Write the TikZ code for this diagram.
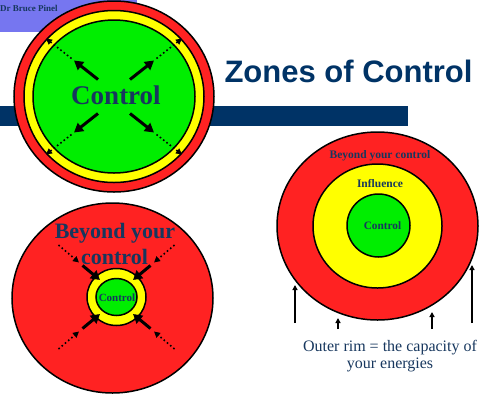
\documentclass[tikz,border=0pt]{standalone}
\usepackage{fontspec}
\setmainfont{Liberation Serif}
\newfontfamily\titlefont{Liberation Sans}
\usetikzlibrary{arrows.meta,calc}
\definecolor{zonered}{RGB}{255,34,34}
\definecolor{zoneyellow}{RGB}{255,255,0}
\definecolor{zonegreen}{RGB}{0,238,0}
\definecolor{ink}{RGB}{23,55,94}
\definecolor{titleblue}{RGB}{0,51,102}
\definecolor{banner}{RGB}{118,118,240}
\tikzset{
  ring/.style={draw=black,line width=1.5pt},
  push/.style={line width=3pt,-{Triangle[length=9pt,width=10pt]}},
  reach/.style={line width=1.6pt,dash pattern=on 1.6pt off 2.6pt,-{Triangle[length=6pt,width=6pt]}},
  lift/.style={line width=1.3pt,-{Triangle[length=5pt,width=5pt]}},
  zonetext/.style={text=ink,inner sep=0pt,anchor=base}
}
\begin{document}
\begin{tikzpicture}[x=1pt,y=-1pt]
  \useasboundingbox (0,0) rectangle (489,397);
  % header
  \fill[banner] (0,0) rectangle (137,32);
  \fill[titleblue] (0,106) rectangle (408,126);
  \node[zonetext,anchor=base west,font=\bfseries\fontsize{9}{10}\selectfont] (author) at (0,11) {Dr Bruce Pinel};
  \node[anchor=base,text=titleblue,font=\titlefont\bfseries\fontsize{31}{36}\selectfont] (title) at (348.5,82) {Zones of Control};

  % upper circle: control reaching out
  \coordinate (U) at (114,96.5);
  \draw[ring,fill=zonered] (U) ellipse [x radius=100pt,y radius=95.5pt];
  \draw[ring,fill=zoneyellow] (U) ellipse [x radius=90pt,y radius=86pt];
  \draw[ring,fill=zonegreen] (U) ellipse [x radius=81pt,y radius=76.5pt];
  \node[zonetext,font=\bfseries\fontsize{27}{30}\selectfont] (ctrlU) at (116,104) {Control};
  \foreach \n/\sx/\sy in {nw/-1/-1,ne/1/-1,sw/-1/1,se/1/1}{
    \coordinate (Ua\n) at ($(U)+(\sx*16,\sy*17)$);
    \coordinate (Ub\n) at ($(U)+(\sx*40,\sy*36)$);
    \coordinate (Uc\n) at ($(U)+(\sx*42.5,\sy*38)$);
    \coordinate (Ud\n) at ($(U)+(\sx*68,\sy*58)$);
    \draw[push] (Ua\n) -- (Ub\n);
    \draw[reach] (Uc\n) -- (Ud\n);
  }

  % lower circle: pressed from outside
  \coordinate (L) at (112.5,298);
  \coordinate (Lc) at (116.5,297);
  \draw[ring,fill=zonered] (L) ellipse [x radius=100.5pt,y radius=95pt];
  \draw[ring,fill=zoneyellow] (Lc) ellipse [x radius=29.5pt,y radius=28.5pt];
  \draw[ring,fill=zonegreen] (Lc) ellipse [x radius=20.5pt,y radius=18.5pt];
  \node[zonetext,font=\bfseries\fontsize{22}{26}\selectfont] (beyondA) at (115,238) {Beyond your};
  \node[zonetext,font=\bfseries\fontsize{22}{26}\selectfont] (beyondB) at (114.5,264) {control};
  \node[zonetext,font=\bfseries\fontsize{11}{12}\selectfont] (ctrlL) at (117,301) {Control};
  \foreach \n/\sx/\sy in {nw/-1/-1,ne/1/-1,sw/-1/1,se/1/1}{
    \coordinate (La\n) at ($(Lc)+(\sx*34,\sy*31.5)$);
    \coordinate (Lb\n) at ($(Lc)+(\sx*16.5,\sy*17)$);
    \coordinate (Ld\n) at ($(Lc)+(\sx*58,\sy*52)$);
    \coordinate (Le\n) at ($(Lc)+(\sx*37.5,\sy*34.5)$);
    \draw[push] (La\n) -- (Lb\n);
    \draw[reach] (Ld\n) -- (Le\n);
  }

  % right circle: the three zones
  \coordinate (R) at (377.5,226);
  \draw[ring,fill=zonered] (R) ellipse [x radius=100.5pt,y radius=94pt];
  \draw[ring,fill=zoneyellow] (R) ellipse [x radius=64.5pt,y radius=62pt];
  \draw[ring,fill=zonegreen] (378.5,225.5) circle [radius=31.5pt];
  \node[zonetext,font=\bfseries\fontsize{11.5}{13}\selectfont] (beyondR) at (380,158) {Beyond your control};
  \node[zonetext,font=\bfseries\fontsize{11.5}{13}\selectfont] (influence) at (380,187) {Influence};
  \node[zonetext,font=\bfseries\fontsize{11.3}{13}\selectfont] (ctrlR) at (382.5,229) {Control};
  \coordinate (rimA0) at (295,323);  \coordinate (rimA1) at (295,285);
  \coordinate (rimB0) at (338,329);  \coordinate (rimB1) at (338,318);
  \coordinate (rimC0) at (432,329);  \coordinate (rimC1) at (432,312);
  \coordinate (rimD0) at (472,323);  \coordinate (rimD1) at (472,265);
  \foreach \n in {A,B,C,D}
    \draw[lift] (rim\n0) -- (rim\n1);
  \node[zonetext,font=\fontsize{16}{18}\selectfont] (rimA) at (390,351) {Outer rim = the capacity of};
  \node[zonetext,font=\fontsize{16}{18}\selectfont] (rimB) at (390,368) {your energies};
\end{tikzpicture}
\end{document}
